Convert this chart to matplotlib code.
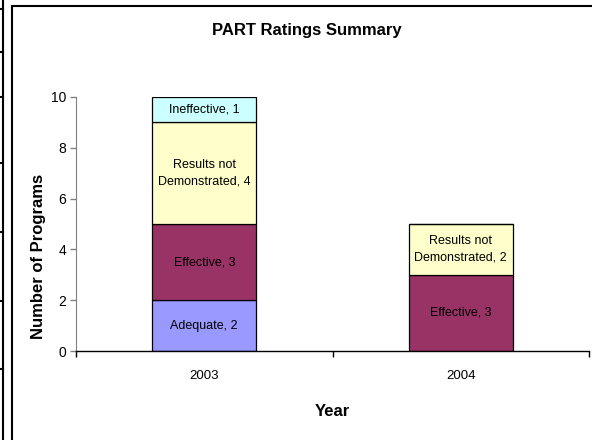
import matplotlib
matplotlib.use("Agg")
import matplotlib.pyplot as plt
from matplotlib.lines import Line2D
from matplotlib.patches import Rectangle
import numpy as np

# ---- data ----
years = ["2003", "2004"]
rating_names = ["Adequate", "Effective", "Results not\nDemonstrated", "Ineffective"]
adequate = [2, 0]
effective = [3, 3]
results_not_demonstrated = [4, 2]
ineffective = [1, 0]
series = [adequate, effective, results_not_demonstrated, ineffective]
colors = ["#9999FF", "#993366", "#FFFFCC", "#CCFFFF"]
yticks = [0, 2, 4, 6, 8, 10]

plt.rcParams["font.family"] = ["Liberation Sans", "DejaVu Sans"]

W, H = 592, 440
fig = plt.figure(figsize=(W / 100, H / 100), dpi=100)

def fx(px):
    return px / W

def fy(py):
    return 1 - py / H

# decorative borders (page table edge and chart frame)
fig.add_artist(Line2D([fx(3), fx(3)], [0, 1], color="black", lw=1.5, transform=fig.transFigure))
for yy in [9, 52, 97, 163, 232, 301, 369]:
    fig.add_artist(Line2D([0, fx(3)], [fy(yy), fy(yy)], color="black", lw=1.5, transform=fig.transFigure))
fig.add_artist(Rectangle((fx(11.5), fy(445)), fx(600), fy(6) - fy(445), fill=False,
                         edgecolor="black", lw=1.5, transform=fig.transFigure))

ax = fig.add_axes([fx(76), fy(351), fx(589) - fx(76), fy(97) - fy(351)])
x = np.arange(len(years))
width = 0.405
bottom = np.zeros(len(years))
for name, vals, c in zip(rating_names, series, colors):
    vals = np.array(vals, dtype=float)
    ax.bar(x, vals, width, bottom=bottom, color=c, edgecolor="black", linewidth=0.9, zorder=2)
    for xi, v, b in zip(x, vals, bottom):
        if v > 0:
            ax.text(xi, b + v / 2, f"{name}, {int(v)}", ha="center", va="center",
                    fontsize=9, color="black", linespacing=1.55, zorder=3)
    bottom += vals

ax.set_xlim(-0.5, 1.5)
ax.set_ylim(0, 10)
ax.set_yticks(yticks)
ax.set_yticklabels([str(t) for t in yticks], fontsize=10)
ax.set_xticks(x)
ax.set_xticklabels(years, fontsize=9.5)
ax.set_xticks([-0.5, 0.5, 1.5], minor=True)
ax.tick_params(axis="x", which="major", length=0, pad=14)
ax.tick_params(axis="x", which="minor", length=4, width=1, direction="out")
ax.tick_params(axis="y", length=4, width=1, direction="out", pad=3, color="#808080")

for s in ["top", "right"]:
    ax.spines[s].set_visible(False)
ax.spines["left"].set_color("#808080")
ax.spines["bottom"].set_color("black")
ax.spines["bottom"].set_linewidth(1.0)

fig.text(fx(307), fy(30), "PART Ratings Summary", ha="center", va="center",
         fontsize=12, fontweight="bold")
fig.text(fx(332), fy(411), "Year", ha="center", va="center", fontsize=12, fontweight="bold")
fig.text(fx(39), fy(256), "Number of Programs", ha="center", va="center", rotation=90,
         fontsize=12, fontweight="bold")

fig.savefig("out.png", dpi=100)
